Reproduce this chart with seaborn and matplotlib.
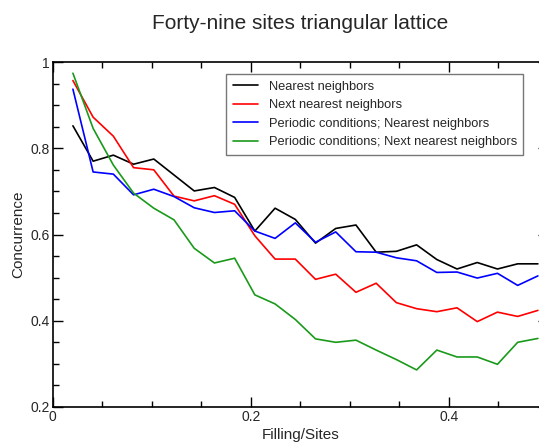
import numpy as np
import pandas as pd
import matplotlib
matplotlib.use("Agg")
import matplotlib.pyplot as plt
from matplotlib.ticker import MultipleLocator
import seaborn as sns

sns.set_style("ticks")
plt.rcParams['font.family'] = ['Liberation Sans', 'DejaVu Sans']

filling = [k / 49 for k in range(1, 25)]

nearest = [0.852, 0.770, 0.784, 0.763, 0.775, 0.738, 0.701, 0.709, 0.686, 0.608,
           0.661, 0.635, 0.580, 0.614, 0.622, 0.559, 0.561, 0.576, 0.542, 0.520,
           0.535, 0.520, 0.532, 0.532]
next_nearest = [0.957, 0.872, 0.828, 0.755, 0.750, 0.689, 0.678, 0.690, 0.670, 0.597,
                0.543, 0.543, 0.496, 0.508, 0.466, 0.487, 0.442, 0.428, 0.421, 0.430,
                0.398, 0.420, 0.410, 0.424]
periodic_nearest = [0.937, 0.745, 0.740, 0.692, 0.705, 0.688, 0.662, 0.651, 0.655, 0.608,
                    0.591, 0.627, 0.582, 0.606, 0.560, 0.559, 0.546, 0.539, 0.512, 0.513,
                    0.499, 0.510, 0.482, 0.504]
periodic_next = [0.974, 0.846, 0.761, 0.696, 0.661, 0.634, 0.568, 0.534, 0.545, 0.460,
                 0.439, 0.403, 0.358, 0.350, 0.355, 0.332, 0.310, 0.286, 0.332, 0.316,
                 0.316, 0.299, 0.350, 0.359]

labels = ["Nearest neighbors", "Next nearest neighbors",
          "Periodic conditions; Nearest neighbors",
          "Periodic conditions; Next nearest neighbors"]
colors = ["#000000", "#ff0000", "#0000ff", "#1a9a1a"]
series = [nearest, next_nearest, periodic_nearest, periodic_next]

df = pd.concat([pd.DataFrame({"Filling/Sites": filling, "Concurrence": s, "series": lab})
                for s, lab in zip(series, labels)], ignore_index=True)

fig = plt.figure(figsize=(5.39, 4.42), dpi=100)
ax = fig.add_axes([52.7 / 539, 1 - 407 / 442, (548 - 52.7) / 539, 345 / 442])

sns.lineplot(data=df, x="Filling/Sites", y="Concurrence", hue="series",
             palette=dict(zip(labels, colors)), linewidth=1.2, ax=ax, sort=False)

ax.set_xlim(0, 0.5)
ax.set_ylim(0.2, 1.0)
ax.xaxis.set_minor_locator(MultipleLocator(0.05))
ax.yaxis.set_minor_locator(MultipleLocator(0.05))
ax.set_xticks([0, 0.2, 0.4])
ax.set_xticklabels(["0", "0.2", "0.4"])
ax.set_yticks([0.2, 0.4, 0.6, 0.8, 1.0])
ax.set_yticklabels(["0.2", "0.4", "0.6", "0.8", "1"])
ax.tick_params(which="both", direction="in", top=True, right=True, labelsize=10,
               width=1.0, color="black", pad=2)
ax.tick_params(which="major", length=7)
ax.tick_params(which="minor", length=4)
for sp in ax.spines.values():
    sp.set_color("black")
    sp.set_linewidth(1.2)

ax.set_xlabel("Filling/Sites", fontsize=11, labelpad=3)
ax.set_ylabel("Concurrence", fontsize=11, labelpad=4)
ax.set_title("Forty-nine sites triangular lattice", fontsize=15, pad=24)

leg = ax.legend(loc="upper left", bbox_to_anchor=(0.35, 0.965), fontsize=9.3,
                frameon=True, fancybox=False, handlelength=2.0, borderpad=0.5,
                labelspacing=0.5, borderaxespad=0)
leg.get_frame().set_edgecolor("#555555")
leg.get_frame().set_linewidth(1.0)
leg.set_title(None)

fig.savefig("out.png", dpi=100)
